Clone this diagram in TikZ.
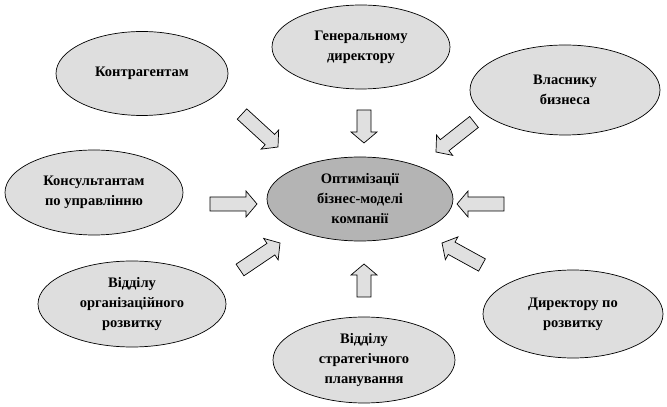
\documentclass[tikz,border=0pt]{standalone}
\usepackage{fontspec}
\setmainfont{Liberation Serif}
\usetikzlibrary{shapes.geometric,calc}
\definecolor{lightfill}{HTML}{DEDEDE}
\definecolor{darkfill}{HTML}{B4B4B4}
\definecolor{arrowfill}{HTML}{E0E0E0}
\newcommand{\blockarrow}[3]{%
  \coordinate (#1h) at ($(#3)!11pt!(#2)$);
  \draw[blockarr] ($(#2)!7pt!90:(#3)$) -- ($(#1h)!7pt!-90:(#2)$) -- ($(#1h)!13pt!-90:(#2)$) -- (#3)
    -- ($(#1h)!13pt!90:(#2)$) -- ($(#1h)!7pt!90:(#2)$) -- ($(#2)!7pt!-90:(#3)$) -- cycle;}
\begin{document}
\begin{tikzpicture}[x=1pt,y=1pt,
  oval/.style={ellipse,draw=black,line width=0.7pt,fill=lightfill,align=center,inner sep=0pt,
    font=\fontsize{14.5}{20}\selectfont\bfseries},
  mainoval/.style={oval,fill=darkfill},
  blockarr/.style={draw=black,line width=0.7pt,fill=arrowfill,line join=miter}]
\useasboundingbox[fill=white] (0,0) rectangle (667,407);
\node[mainoval,minimum width=186pt,minimum height=84pt] (c) at (360,208) {Оптимізації\\бізнес-моделі\\компанії};
\node[oval,minimum width=172pt,minimum height=84pt] (k) at (142,333.5) {Контрагентам};
\node[oval,minimum width=178pt,minimum height=84pt] (g) at (361,360) {Генеральному\\директору};
\node[oval,minimum width=190pt,minimum height=90pt] (v) at (565,317) {Власнику\\бизнеса};
\node[oval,minimum width=178pt,minimum height=85pt] (ks) at (94,214.5) {Консультантам\\по управлінню};
\node[oval,minimum width=188pt,minimum height=86pt] (vo) at (132,103) {Відділу\\організаційного\\розвитку};
\node[oval,minimum width=182pt,minimum height=86pt] (vs) at (364,47) {Відділу\\стратегічного\\планування};
\node[oval,minimum width=180pt,minimum height=88pt] (d) at (573,93) {Директору по\\розвитку};
% block arrows
\coordinate (a1t) at (242,293); \coordinate (a1p) at (278,260);
\coordinate (a2t) at (364,297); \coordinate (a2p) at (364,264);
\coordinate (a3t) at (474,285); \coordinate (a3p) at (436,255);
\coordinate (a4t) at (210,203); \coordinate (a4p) at (257,203);
\coordinate (a5t) at (504,203); \coordinate (a5p) at (457,203);
\coordinate (a6t) at (240,137); \coordinate (a6p) at (280,164);
\coordinate (a7t) at (364,110); \coordinate (a7p) at (364,143);
\coordinate (a8t) at (482,142); \coordinate (a8p) at (442,164);
\blockarrow{a1}{a1t}{a1p}
\blockarrow{a2}{a2t}{a2p}
\blockarrow{a3}{a3t}{a3p}
\blockarrow{a4}{a4t}{a4p}
\blockarrow{a5}{a5t}{a5p}
\blockarrow{a6}{a6t}{a6p}
\blockarrow{a7}{a7t}{a7p}
\blockarrow{a8}{a8t}{a8p}
\end{tikzpicture}
\end{document}
